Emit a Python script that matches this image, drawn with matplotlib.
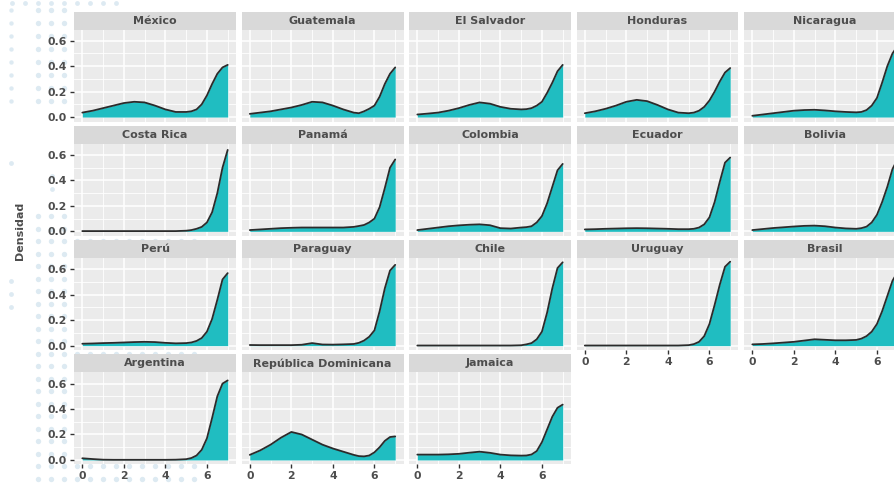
import numpy as np
import matplotlib.pyplot as plt

# grid of the index (0-7) where the densities were read
x = [0, 0.5, 1, 1.5, 2, 2.5, 3, 3.5, 4, 4.5, 5, 5.25, 5.5, 5.75, 6, 6.25, 6.5, 6.75, 7]

countries = ["México", "Guatemala", "El Salvador", "Honduras", "Nicaragua",
             "Costa Rica", "Panamá", "Colombia", "Ecuador", "Bolivia",
             "Perú", "Paraguay", "Chile", "Uruguay", "Brasil",
             "Argentina", "República Dominicana", "Jamaica"]

mexico = [0.035, 0.05, 0.07, 0.09, 0.11, 0.12, 0.115, 0.09, 0.06, 0.04, 0.04, 0.045, 0.06, 0.10, 0.17, 0.26, 0.34, 0.39, 0.41]
guatemala = [0.025, 0.035, 0.045, 0.06, 0.075, 0.095, 0.12, 0.115, 0.09, 0.06, 0.035, 0.03, 0.045, 0.065, 0.09, 0.16, 0.26, 0.34, 0.39]
el_salvador = [0.02, 0.027, 0.035, 0.05, 0.07, 0.095, 0.115, 0.105, 0.08, 0.065, 0.06, 0.062, 0.07, 0.09, 0.12, 0.19, 0.27, 0.36, 0.41]
honduras = [0.03, 0.045, 0.065, 0.09, 0.12, 0.135, 0.125, 0.095, 0.06, 0.035, 0.03, 0.035, 0.05, 0.08, 0.13, 0.20, 0.28, 0.35, 0.385]
nicaragua = [0.01, 0.02, 0.03, 0.04, 0.05, 0.055, 0.057, 0.052, 0.045, 0.04, 0.037, 0.04, 0.055, 0.09, 0.15, 0.27, 0.40, 0.50, 0.56]
costa_rica = [0.002, 0.002, 0.002, 0.002, 0.002, 0.002, 0.002, 0.002, 0.002, 0.002, 0.005, 0.01, 0.02, 0.035, 0.07, 0.15, 0.30, 0.50, 0.64]
panama = [0.01, 0.015, 0.02, 0.025, 0.028, 0.03, 0.03, 0.03, 0.03, 0.03, 0.035, 0.042, 0.05, 0.07, 0.10, 0.19, 0.34, 0.50, 0.565]
colombia = [0.01, 0.02, 0.03, 0.04, 0.047, 0.052, 0.055, 0.048, 0.025, 0.022, 0.03, 0.033, 0.04, 0.07, 0.12, 0.22, 0.35, 0.48, 0.53]
ecuador = [0.015, 0.017, 0.02, 0.022, 0.024, 0.025, 0.024, 0.022, 0.02, 0.017, 0.017, 0.02, 0.03, 0.055, 0.11, 0.23, 0.39, 0.54, 0.58]
bolivia = [0.01, 0.018, 0.026, 0.032, 0.038, 0.043, 0.045, 0.04, 0.03, 0.023, 0.02, 0.025, 0.037, 0.07, 0.13, 0.23, 0.35, 0.49, 0.57]
peru = [0.015, 0.017, 0.02, 0.022, 0.025, 0.028, 0.03, 0.028, 0.022, 0.018, 0.02, 0.025, 0.037, 0.06, 0.11, 0.21, 0.36, 0.52, 0.57]
paraguay = [0.005, 0.004, 0.004, 0.004, 0.004, 0.007, 0.02, 0.009, 0.008, 0.01, 0.013, 0.022, 0.04, 0.07, 0.12, 0.27, 0.45, 0.59, 0.635]
chile = [0.001, 0.001, 0.001, 0.001, 0.001, 0.001, 0.001, 0.001, 0.001, 0.001, 0.003, 0.01, 0.02, 0.05, 0.11, 0.26, 0.45, 0.61, 0.655]
uruguay = [0.001, 0.001, 0.001, 0.001, 0.001, 0.001, 0.001, 0.001, 0.001, 0.001, 0.004, 0.012, 0.03, 0.075, 0.17, 0.32, 0.48, 0.62, 0.66]
brasil = [0.01, 0.013, 0.018, 0.024, 0.03, 0.04, 0.05, 0.046, 0.042, 0.042, 0.045, 0.055, 0.075, 0.11, 0.17, 0.27, 0.39, 0.51, 0.58]
argentina = [0.013, 0.007, 0.002, 0.001, 0.001, 0.001, 0.001, 0.001, 0.001, 0.002, 0.006, 0.015, 0.035, 0.08, 0.17, 0.33, 0.50, 0.60, 0.625]
rep_dominicana = [0.04, 0.075, 0.12, 0.175, 0.22, 0.20, 0.16, 0.12, 0.09, 0.065, 0.04, 0.03, 0.028, 0.035, 0.06, 0.10, 0.15, 0.18, 0.185]
jamaica = [0.042, 0.042, 0.042, 0.044, 0.048, 0.057, 0.065, 0.056, 0.042, 0.036, 0.034, 0.035, 0.043, 0.07, 0.14, 0.24, 0.34, 0.41, 0.435]

densities = [mexico, guatemala, el_salvador, honduras, nicaragua,
             costa_rica, panama, colombia, ecuador, bolivia,
             peru, paraguay, chile, uruguay, brasil,
             argentina, rep_dominicana, jamaica]

x_ticks = [0, 2, 4, 6]
y_ticks = [0.0, 0.2, 0.4, 0.6]
y_label = "Densidad"

W, H = 894, 484
fill_color = "#20BDC1"
panel_bg = "#EBEBEB"
strip_bg = "#D9D9D9"
text_grey = "#4D4D4D"
dot_color = "#DDEAF2"
font = "DejaVu Sans"


def px_axes(fig, left, top, width, height):
    return fig.add_axes([left / W, 1 - (top + height) / H, width / W, height / H])


fig = plt.figure(figsize=(W / 100, H / 100), dpi=100)

# faint dotted background pattern on the left
bg = fig.add_axes([0, 0, 1, 1], zorder=-5)
bg.set_xlim(0, W)
bg.set_ylim(H, 0)
bg.axis("off")
gx, gy = np.meshgrid([38, 51, 64], np.arange(10, 110, 13))
bg.scatter(gx.ravel(), gy.ravel(), s=15, color=dot_color, lw=0)
bg.scatter(np.full(8, 11), np.arange(10, 110, 13), s=10, color=dot_color, lw=0)
bg.scatter(np.arange(12, 120, 13), np.full(9, 3), s=12, color=dot_color, lw=0)
gx, gy = np.meshgrid(np.arange(38, 205, 13), np.arange(216, 490, 12.5))
bg.scatter(gx.ravel(), gy.ravel(), s=15, color=dot_color, lw=0)
bg.scatter([11, 11, 11, 11, 52, 52], [163, 281, 294, 307, 176, 189], s=12, color=dot_color, lw=0)

ncol = 5
col_step, row_step = 167.5, 114.3
pw, ph, sh = 162, 92, 18
n = len(countries)

for i, (name, dens) in enumerate(zip(countries, densities)):
    r, c = divmod(i, ncol)
    left = 74 + col_step * c
    top = 29.5 + row_step * r

    ax = px_axes(fig, left, top, pw, ph)
    ax.set_facecolor(panel_bg)
    ax.fill_between(x, 0, dens, color=fill_color, lw=0, zorder=2)
    ax.plot(x, dens, color="#2B2B2B", lw=1.3, zorder=3,
            solid_capstyle="round", solid_joinstyle="round")
    ax.set_xlim(-0.4, 7.4)
    ax.set_ylim(-0.035, 0.688)
    ax.set_xticks(x_ticks)
    ax.set_xticks([1, 3, 5, 7], minor=True)
    ax.set_yticks(y_ticks)
    ax.set_yticks([0.1, 0.3, 0.5], minor=True)
    ax.grid(which="major", color="white", lw=1.1)
    ax.grid(which="minor", color="white", lw=0.6)
    ax.set_axisbelow(True)
    for s in ax.spines.values():
        s.set_visible(False)
    ax.tick_params(which="minor", length=0)
    ax.tick_params(which="major", length=3, width=1.0, color="#333333",
                   labelcolor=text_grey, labelsize=7.8, pad=2)

    if c == 0:
        ax.set_yticklabels([f"{v:.1f}" for v in y_ticks], fontweight="bold", family=font)
    else:
        ax.tick_params(axis="y", length=0, labelleft=False)
    # bottom panel of each column carries the x axis
    if i + ncol >= n:
        ax.set_xticklabels([str(v) for v in x_ticks], fontweight="bold", family=font)
    else:
        ax.tick_params(axis="x", length=0, labelbottom=False)

    st = px_axes(fig, left, top - sh, pw, sh)
    st.set_facecolor(strip_bg)
    st.set_xticks([])
    st.set_yticks([])
    for s in st.spines.values():
        s.set_visible(False)
    st.text(0.5, 0.5, name, ha="center", va="center", color=text_grey,
            fontsize=8, fontweight="bold", family=font, transform=st.transAxes)

fig.text(20 / W, 1 - 231 / H, y_label, rotation=90, ha="center", va="center",
         color=text_grey, fontsize=8, fontweight="bold", family=font)

fig.savefig("out.png", dpi=100)
